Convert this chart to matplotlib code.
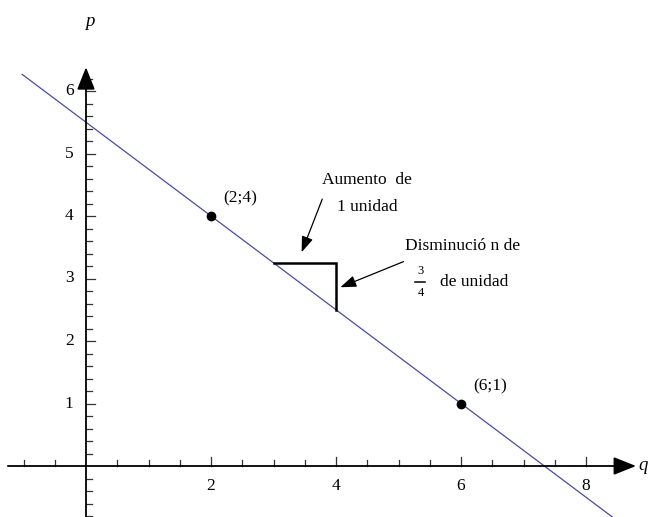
import numpy as np
import matplotlib
matplotlib.use("Agg")
import matplotlib.pyplot as plt

plt.rcParams["font.family"] = ["Liberation Serif", "DejaVu Serif"]

# Demand line p = -3/4 q + 11/2
slope = -3 / 4
intercept = 5.5
q_line = [-1.02, 8.42]

# Marked points on the line
points_q = [2, 6]
points_p = [4, 1]
point_labels = ["(2;4)", "(6;1)"]

# Slope triangle: run of 1 unit starting at q = 3
run_start = 3
run = 1

x_major = [2, 4, 6, 8]
y_major = [1, 2, 3, 4, 5, 6]

fig = plt.figure(figsize=(6.52, 5.17), dpi=100)
ax = fig.add_axes([0, 0, 1, 1])
ax.set_xlim(-86 / 62.5, (652 - 86) / 62.5)
ax.set_ylim(-(517 - 466) / 62.5, 466 / 62.5)
ax.axis("off")

axis_col = "#333333"
fs = 12.5
axis_head = "-|>,head_length=0.55,head_width=0.22"
note_head = "-|>,head_length=0.6,head_width=0.22"

# axes with arrow heads
ax.annotate("", xy=(8.8, 0), xytext=(-1.25, 0),
            arrowprops=dict(arrowstyle=axis_head, color="black", lw=1.3,
                            mutation_scale=25, shrinkA=0, shrinkB=0))
ax.annotate("", xy=(0, 6.38), xytext=(0, -0.85),
            arrowprops=dict(arrowstyle=axis_head, color="black", lw=1.3,
                            mutation_scale=25, shrinkA=0, shrinkB=0))

# x ticks (above the axis)
for t in np.arange(-1, 8.51, 0.5):
    if abs(t) < 1e-9:
        continue
    h = 0.15 if t in x_major else 0.09
    ax.plot([t, t], [0, h], color=axis_col, lw=0.9)
for t in x_major:
    ax.text(t, -0.2, str(t), ha="center", va="top", fontsize=fs)

# y ticks (right of the axis)
for t in np.arange(-0.8, 6.21, 0.2):
    if abs(t) < 1e-9:
        continue
    is_major = abs(t - round(t)) < 1e-9
    w = 0.15 if is_major else 0.09
    ax.plot([0, w], [t, t], color=axis_col, lw=0.9)
for t in y_major:
    ax.text(-0.2, t, str(t), ha="right", va="center", fontsize=fs)

ax.text(0.06, 7.12, "p", style="italic", fontsize=fs + 1, ha="center", va="center")
ax.text(8.84, 0.0, "q", style="italic", fontsize=fs + 1, ha="left", va="center")

# demand line
qq = np.array(q_line)
ax.plot(qq, slope * qq + intercept, color="#4a4aa8", lw=0.9)

# points
ax.plot(points_q, points_p, "o", color="black", ms=6)
for q, p, lab in zip(points_q, points_p, point_labels):
    ax.text(q + 0.19, p + 0.28, lab, fontsize=fs, ha="left", va="center")

# slope triangle
p0 = slope * run_start + intercept
p1 = slope * (run_start + run) + intercept
ax.plot([run_start, run_start + run, run_start + run], [p0, p0, p1],
        color="black", lw=1.8, solid_joinstyle="miter")

# annotations
ax.text(3.78, 4.58, "Aumento  de", fontsize=fs, ha="left", va="center")
ax.text(4.02, 4.15, "1 unidad", fontsize=fs, ha="left", va="center")
ax.annotate("", xy=(3.45, 3.42), xytext=(3.78, 4.27),
            arrowprops=dict(arrowstyle=note_head, color="black", lw=0.9,
                            mutation_scale=16, shrinkA=0, shrinkB=0))

ax.text(5.1, 3.52, "Disminució n de", fontsize=fs, ha="left", va="center")
ax.text(5.35, 3.12, "3", fontsize=9, ha="center", va="center")
ax.plot([5.26, 5.43], [2.95, 2.95], color="black", lw=1.1)
ax.text(5.35, 2.77, "4", fontsize=9, ha="center", va="center")
ax.text(5.66, 2.95, "de unidad", fontsize=fs, ha="left", va="center")
ax.annotate("", xy=(4.07, 2.86), xytext=(5.08, 3.27),
            arrowprops=dict(arrowstyle=note_head, color="black", lw=0.9,
                            mutation_scale=16, shrinkA=0, shrinkB=0))

fig.savefig("out.png", dpi=100)
